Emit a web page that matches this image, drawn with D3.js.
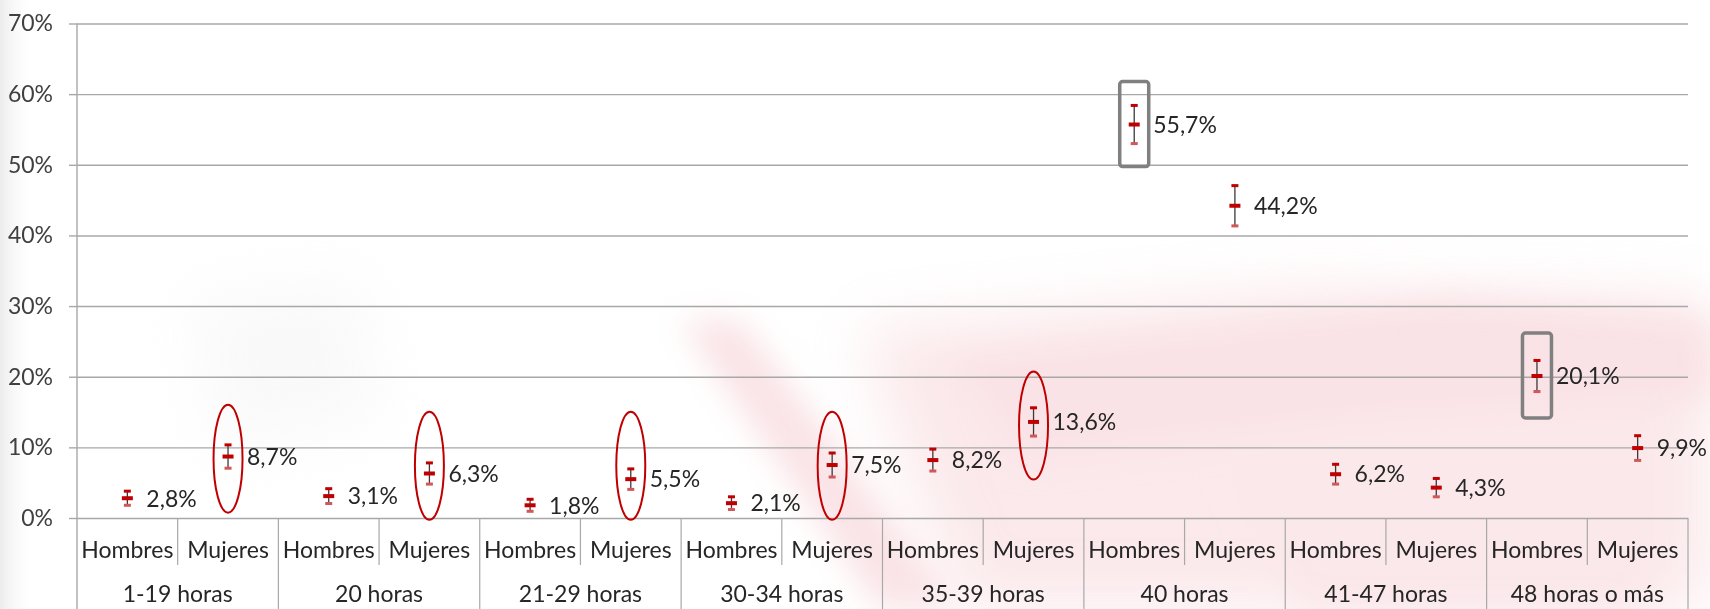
<!DOCTYPE html>
<html><head><meta charset="utf-8">
<script src="https://cdn.jsdelivr.net/npm/d3@7"></script>
<style>
html,body{margin:0;padding:0;background:#fff;overflow:hidden}
svg{display:block}
text{font-family:Lato,"Open Sans",sans-serif}
</style></head>
<body>
<script>
// ---------- data ----------
const groups = ["1-19 horas","20 horas","21-29 horas","30-34 horas","35-39 horas","40 horas","41-47 horas","48 horas o más"];
const sexes = ["Hombres","Mujeres"];
const hombres = [2.8, 3.1, 1.8, 2.1, 8.2, 55.7, 6.2, 20.1];
const mujeres = [8.7, 6.3, 5.5, 7.5, 13.6, 44.2, 4.3, 9.9];
const errHombres = [1.0, 1.05, 0.85, 0.9, 1.55, 2.7, 1.4, 2.2];
const errMujeres = [1.65, 1.5, 1.45, 1.7, 2.0, 2.85, 1.3, 1.75];
const yTicks = [0, 10, 20, 30, 40, 50, 60, 70];
// highlighted points: ellipses (Mujeres) and boxes (Hombres), in data units
const ellipseGroups = [0, 1, 2, 3, 4];
const ellipseCenters = [8.4, 7.4, 7.4, 7.4, 13.1];
const boxGroups = [5, 7];

const W = 1710, H = 609;
const FS = "23px";
const svg = d3.select("body").append("svg").attr("width", W).attr("height", H);

// ---------- faint watermark background ----------
const defs = svg.append("defs");
defs.append("filter").attr("id","blur").attr("x","-30%").attr("y","-30%").attr("width","160%").attr("height","160%")
  .append("feGaussianBlur").attr("stdDeviation", 16);
defs.append("filter").attr("id","blur2").attr("x","-30%").attr("y","-30%").attr("width","160%").attr("height","160%")
  .append("feGaussianBlur").attr("stdDeviation", 30);
const lg = defs.append("linearGradient").attr("id","leftg").attr("x1","0").attr("x2","1");
lg.append("stop").attr("offset","0").attr("stop-color","#ececec");
lg.append("stop").attr("offset","1").attr("stop-color","#ffffff").attr("stop-opacity",0);
svg.append("rect").attr("x",0).attr("y",0).attr("width",36).attr("height",H).attr("fill","url(#leftg)");

const wm = svg.append("g").attr("opacity", 0.45);
wm.append("path").attr("filter","url(#blur2)").attr("fill","#f6cdd2")
  .attr("d","M860,330 L1300,290 L1710,300 L1710,609 L960,609 Z");
wm.append("path").attr("filter","url(#blur)").attr("fill","#f3c0c7")
  .attr("d","M680,320 L740,320 L960,609 L880,609 Z");
wm.append("path").attr("filter","url(#blur)").attr("fill","#f3c0c7")
  .attr("d","M950,360 L1450,300 L1710,320 L1710,400 L1380,420 L1020,460 Z");
wm.append("path").attr("filter","url(#blur)").attr("fill","#f5cbd1")
  .attr("d","M1230,460 L1650,440 L1650,609 L1300,609 Z");
wm.append("path").attr("filter","url(#blur2)").attr("fill","#f2f2f2")
  .attr("d","M190,300 L360,280 L380,420 L220,450 Z");

// ---------- scales ----------
const x0 = 77, x1 = 1688, yBase = 518, yTop = 23.5;
const keys = [];
groups.forEach((g,i) => sexes.forEach((s,j) => keys.push(i*2+j)));
const x = d3.scaleBand().domain(keys).range([x0, x1]).padding(0);
const y = d3.scaleLinear().domain([0, 70]).range([yBase, yTop]);
const bw = x.bandwidth();

// ---------- gridlines + y axis ----------
const ga = svg.append("g").attr("transform", `translate(${x1},0)`)
  .call(d3.axisLeft(y).tickValues(yTicks).tickSize(x1 - x0).tickFormat(""));
ga.select(".domain").remove();
ga.selectAll(".tick line").attr("stroke","#a8a8a8").attr("stroke-width",1.4);
const gt = svg.append("g").attr("transform", `translate(${x0},0)`)
  .call(d3.axisLeft(y).tickValues(yTicks).tickSize(8).tickPadding(16).tickFormat(d => d + "%"));
gt.select(".domain").remove();
gt.selectAll(".tick line").attr("stroke","#a8a8a8").attr("stroke-width",1.4);
gt.selectAll(".tick text").attr("fill","#404040").style("font-size",FS).style("font-family","Lato");
svg.append("line").attr("x1",x0).attr("x2",x0).attr("y1",yTop).attr("y2",H)
  .attr("stroke","#a8a8a8").attr("stroke-width",1.4);

// ---------- category axis (two levels) ----------
const cat = svg.append("g");
keys.filter(k => k % 2 === 1).forEach(k => {
  cat.append("line").attr("x1", x(k)).attr("x2", x(k)).attr("y1", yBase).attr("y2", 565)
    .attr("stroke","#a8a8a8").attr("stroke-width",1.2);
});
d3.range(1, groups.length + 1).forEach(i => {
  const xx = i < groups.length ? x(i*2) : x1;
  cat.append("line").attr("x1", xx).attr("x2", xx).attr("y1", yBase).attr("y2", H)
    .attr("stroke","#a8a8a8").attr("stroke-width",1.2);
});
cat.selectAll("text.sub").data(keys).join("text").attr("class","sub")
  .attr("x", k => x(k) + bw/2).attr("y", 558).attr("text-anchor","middle")
  .attr("fill","#262626").style("font-size",FS)
  .text(k => sexes[k % 2]);
cat.selectAll("text.grp").data(groups).join("text").attr("class","grp")
  .attr("x", (g,i) => x(i*2) + bw).attr("y", 602).attr("text-anchor","middle")
  .attr("fill","#262626").style("font-size",FS)
  .text(g => g);

// ---------- points with error bars ----------
const pts = [];
groups.forEach((g,i) => {
  pts.push({k: i*2, v: hombres[i], e: errHombres[i]});
  pts.push({k: i*2+1, v: mujeres[i], e: errMujeres[i]});
});
const gp = svg.append("g");
pts.forEach(p => {
  const cx = x(p.k) + bw/2;
  gp.append("line").attr("x1",cx).attr("x2",cx).attr("y1",y(p.v + p.e)).attr("y2",y(p.v - p.e))
    .attr("stroke","#3a3a3a").attr("stroke-width",1.3);
  gp.append("rect").attr("x",cx-3.5).attr("y",y(p.v + p.e)-1.5).attr("width",7).attr("height",3)
    .attr("fill","#c00000");
  gp.append("rect").attr("x",cx-3.5).attr("y",y(p.v - p.e)-1.5).attr("width",7).attr("height",3)
    .attr("fill","#d05858");
  gp.append("rect").attr("x",cx-5.5).attr("y",y(p.v)-2).attr("width",11).attr("height",4)
    .attr("fill","#c00000");
  gp.append("text").attr("x",cx+19).attr("y",y(p.v)).attr("dy","0.36em")
    .attr("fill","#262626").style("font-size",FS)
    .text(d3.format(".1f")(p.v).replace(".", ",") + "%");
});

// ---------- annotations ----------
ellipseGroups.forEach((g,i) => {
  const k = g*2 + 1;
  svg.append("ellipse").attr("cx", x(k) + bw/2).attr("cy", y(ellipseCenters[i]))
    .attr("rx", 14.5).attr("ry", 54)
    .attr("fill","none").attr("stroke","#c00000").attr("stroke-width",2);
});
boxGroups.forEach(g => {
  const k = g*2;
  const v = hombres[g];
  svg.append("rect").attr("x", x(k) + bw/2 - 14.5).attr("y", y(v) - 43)
    .attr("width", 29).attr("height", 85).attr("rx", 3)
    .attr("fill","none").attr("stroke","#808080").attr("stroke-width",3.5);
});
</script>
</body></html>
